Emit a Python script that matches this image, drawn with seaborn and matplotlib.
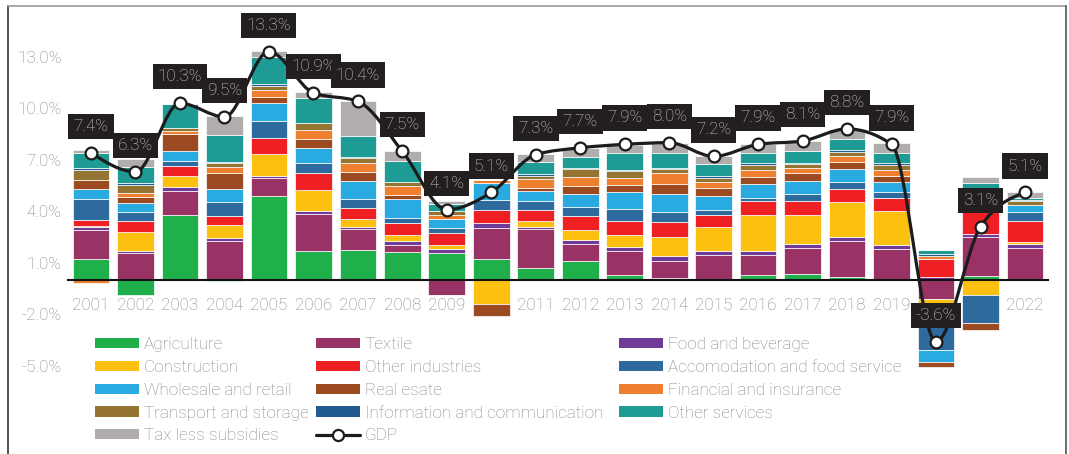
import numpy as np
import matplotlib
matplotlib.use("Agg")
import matplotlib.pyplot as plt
from matplotlib.path import Path
from matplotlib.patches import PathPatch, Patch
from matplotlib.lines import Line2D
import seaborn as sns

# ---------------------------------------------------------------- data
years = [str(y) for y in range(2001, 2023)]

agriculture   = [1.22, -0.85, 3.77, -0.08, 4.89, 1.69, 1.73, 1.65, 1.55, 1.22, 0.68,
                 1.13, 0.29, 0.14, 0.00, 0.27, 0.33, 0.17, 0.00, 0.00, 0.23, 0.06]
textile       = [1.69, 1.55, 1.44, 2.25, 1.07, 2.14, 1.24, 0.39, -0.85, 1.83, 2.29,
                 0.95, 1.42, 0.99, 1.44, 1.17, 1.55, 2.08, 1.83, -1.12, 2.25, 1.83]
food_beverage = [0.20, 0.12, 0.21, 0.19, 0.08, 0.16, 0.14, 0.23, 0.23, 0.29, 0.14,
                 0.25, 0.23, 0.27, 0.25, 0.25, 0.23, 0.27, 0.23, 0.15, 0.19, 0.23]
construction  = [0.05, 1.13, 0.62, 0.74, 1.30, 1.28, 0.45, 0.37, 0.25, -1.40, 0.35,
                 0.58, 0.68, 1.13, 1.38, 2.10, 1.69, 2.02, 1.96, -0.20, -0.87, 0.12]
other_industry = [0.33, 0.64, 0.62, 0.56, 0.95, 0.99, 0.66, 0.66, 0.70, 0.74, 0.62,
                  0.83, 0.83, 0.87, 0.72, 0.82, 0.83, 0.78, 0.74, 1.07, 2.63, 1.18]
accommodation = [1.24, 0.52, 0.29, 0.80, 0.97, 0.58, 0.50, 0.33, 0.29, 0.58, 0.52,
                 0.49, 0.70, 0.56, 0.29, 0.16, 0.37, 0.41, 0.35, -2.76, -1.65, 0.54]
wholesale     = [0.58, 0.50, 0.56, 0.74, 1.03, 0.87, 1.03, 1.07, 0.54, 0.97, 0.60,
                 0.78, 0.97, 1.07, 0.82, 0.85, 0.74, 0.72, 0.60, -0.68, 0.00, 0.43]
real_estate   = [0.49, 0.39, 0.97, 0.97, 0.39, 0.52, 0.56, 0.27, -0.04, -0.68, 0.17,
                 0.47, 0.43, 0.56, 0.47, 0.39, 0.50, 0.45, 0.37, -0.33, -0.39, 0.00]
financial     = [-0.18, 0.19, 0.17, 0.33, 0.39, 0.50, 0.49, 0.49, 0.25, 0.19, 0.54,
                 0.54, 0.41, 0.62, 0.35, 0.37, 0.31, 0.33, 0.33, 0.19, 0.00, 0.00]
transport     = [0.60, 0.52, 0.19, 0.21, 0.23, 0.39, 0.29, 0.27, 0.20, 0.00, 0.14,
                 0.43, 0.37, 0.23, 0.23, 0.31, 0.19, 0.25, 0.29, 0.00, 0.00, 0.19]
info_comm     = [0.12, 0.10, 0.04, 0.08, 0.14, 0.00, 0.10, 0.00, 0.00, 0.00, 0.10,
                 0.10, 0.10, 0.06, 0.10, 0.12, 0.10, 0.08, 0.10, 0.10, 0.00, 0.10]
other_services = [0.89, 0.93, 1.36, 1.55, 1.57, 1.48, 1.22, 1.22, 0.39, 0.00, 0.74,
                  0.62, 0.95, 0.91, 0.68, 0.58, 0.68, 0.66, 0.62, 0.23, 0.33, 0.12]
tax_subsidies = [0.17, 0.43, 0.00, 1.15, 0.35, 0.37, 2.02, 0.56, 0.20, 0.00, 0.43,
                 0.49, 0.47, 0.58, 0.50, 0.54, 0.58, 0.56, 0.58, 0.00, 0.35, 0.33]

gdp = [7.4, 6.3, 10.3, 9.5, 13.3, 10.9, 10.4, 7.5, 4.1, 5.1, 7.3,
       7.7, 7.9, 8.0, 7.2, 7.9, 8.1, 8.8, 7.9, -3.6, 3.1, 5.1]

sector_names = ["Agriculture", "Textile", "Food and beverage", "Construction",
                "Other industries", "Accomodation and food service",
                "Wholesale and retail", "Real esate", "Financial and insurance",
                "Transport and storage", "Information and communication",
                "Other services", "Tax less subsidies"]
sector_values = [agriculture, textile, food_beverage, construction, other_industry,
                 accommodation, wholesale, real_estate, financial, transport,
                 info_comm, other_services, tax_subsidies]
sector_colors = ["#20b04b", "#993366", "#6f3a98", "#fcc010", "#ee2024", "#2e6a9e",
                 "#29abe2", "#9b4a22", "#ee7f2e", "#957330", "#225b90", "#1e9b95",
                 "#b1adac"]

y_ticks = [-5, -2, 1, 4, 7, 10, 13]

# ---------------------------------------------------------------- style
sns.set_theme(style="white")
plt.rcParams["font.family"] = ["Roboto", "DejaVu Sans"]
plt.rcParams["font.weight"] = "light"

W, H = 1069, 454
fig = plt.figure(figsize=(W / 100, H / 100), dpi=100)
ax = fig.add_axes([68 / W, 0, 980 / W, 1])

TEXT_GREY = "#858585"
FS = 12.3

# ---------------------------------------------------------------- stacked bars
n = len(years)
pos_base = np.zeros(n)
neg_base = np.zeros(n)
for vals, color in zip(sector_values, sector_colors):
    v = np.asarray(vals, dtype=float)
    bottom = np.where(v >= 0, pos_base, neg_base)
    sns.barplot(x=years, y=v, bottom=bottom, color=color, saturation=1,
                width=0.825, errorbar=None, edgecolor="white", linewidth=0.5,
                ax=ax, zorder=1)
    pos_base += np.clip(v, 0, None)
    neg_base += np.clip(v, None, 0)


# ---------------------------------------------------------------- GDP line
def monotone_path(xs, ys):
    """Monotone cubic (Fritsch-Carlson style) bezier path through the points."""
    xs = np.asarray(xs, float)
    ys = np.asarray(ys, float)
    m = len(xs)
    sgn = lambda a: -1.0 if a < 0 else 1.0
    t = np.zeros(m)
    for i in range(1, m - 1):
        h0 = xs[i] - xs[i - 1]
        h1 = xs[i + 1] - xs[i]
        s0 = (ys[i] - ys[i - 1]) / h0
        s1 = (ys[i + 1] - ys[i]) / h1
        p = (s0 * h1 + s1 * h0) / (h0 + h1)
        t[i] = (sgn(s0) + sgn(s1)) * min(abs(s0), abs(s1), 0.5 * abs(p))
    t[0] = (3 * (ys[1] - ys[0]) / (xs[1] - xs[0]) - t[1]) / 2
    t[-1] = (3 * (ys[-1] - ys[-2]) / (xs[-1] - xs[-2]) - t[-2]) / 2
    verts = [(xs[0], ys[0])]
    codes = [Path.MOVETO]
    for i in range(m - 1):
        dx = (xs[i + 1] - xs[i]) / 3
        verts += [(xs[i] + dx, ys[i] + dx * t[i]),
                  (xs[i + 1] - dx, ys[i + 1] - dx * t[i + 1]),
                  (xs[i + 1], ys[i + 1])]
        codes += [Path.CURVE4] * 3
    return Path(verts, codes)


xpos = np.arange(n)
LINE_C = "#1c1c1c"
ax.add_patch(PathPatch(monotone_path(xpos, gdp), facecolor="none",
                       edgecolor=LINE_C, linewidth=2.3, zorder=4,
                       capstyle="round", joinstyle="round"))
sns.scatterplot(x=xpos, y=gdp, ax=ax, color="white", edgecolor=LINE_C,
                linewidth=1.6, s=72, zorder=5, legend=False)

for x, v in zip(xpos, gdp):
    ax.annotate(f"{v:.1f}%", xy=(x, v), xytext=(0, 19), textcoords="offset points",
                ha="center", va="center", fontsize=FS, color="#cfcfcf", zorder=6,
                bbox=dict(boxstyle="square,pad=0.3", fc="#231f20", ec="none"))

# ---------------------------------------------------------------- axes
zero_px = 280
unit_px = 17.17
ax.set_ylim(-(H - zero_px) / unit_px, zero_px / unit_px)
ax.set_xlim(-(91 - 68) / 44.48, n - 1 + (1048 - 1025) / 44.48)

for side in ["top", "right", "left"]:
    ax.spines[side].set_visible(False)
ax.spines["bottom"].set_position(("data", 0))
ax.spines["bottom"].set_color("#111111")
ax.spines["bottom"].set_linewidth(1.5)
ax.spines["bottom"].set_zorder(3)

ax.set_yticks(y_ticks)
ax.set_yticklabels([f"{t:.1f}%" for t in y_ticks])
ax.tick_params(axis="y", length=0, pad=4.5, labelsize=FS, labelcolor=TEXT_GREY)
ax.tick_params(axis="x", length=0, pad=13, labelsize=FS, labelcolor=TEXT_GREY)
ax.set_xlabel("")
ax.set_ylabel("")
ax.patch.set_alpha(0)

# ---------------------------------------------------------------- legend
patches = [Patch(facecolor=c, edgecolor="none", label=nm)
           for nm, c in zip(sector_names, sector_colors)]
gdp_handle = Line2D([], [], color=LINE_C, lw=2.3, marker="o", markersize=8,
                    markerfacecolor="white", markeredgecolor=LINE_C,
                    markeredgewidth=1.6, label="GDP")
by_name = {p.get_label(): p for p in patches}
columns = [
    (95, ["Agriculture", "Construction", "Wholesale and retail",
          "Transport and storage", "Tax less subsidies"]),
    (316, ["Textile", "Other industries", "Real esate",
           "Information and communication", "GDP"]),
    (619, ["Food and beverage", "Accomodation and food service",
           "Financial and insurance", "Other services"]),
]
for x_px, names in columns:
    hs = [gdp_handle if nm == "GDP" else by_name[nm] for nm in names]
    fig.legend(handles=hs, labels=names, loc="upper left",
               bbox_to_anchor=(x_px / W, 1 - 337 / H),
               frameon=False, fontsize=FS, handlelength=2.55,
               handleheight=0.53, handletextpad=0.3, labelspacing=0.46,
               borderpad=0, borderaxespad=0, labelcolor=TEXT_GREY)

# ---------------------------------------------------------------- frame
fig.add_artist(Line2D([8 / W, 8 / W], [0, 1 - 6 / H], transform=fig.transFigure,
                      color="#333333", lw=1.2))
fig.add_artist(Line2D([8 / W, 1066 / W], [1 - 6 / H, 1 - 6 / H],
                      transform=fig.transFigure, color="#9a9a9a", lw=1.2))
fig.add_artist(Line2D([1066 / W, 1066 / W], [0, 1 - 6 / H],
                      transform=fig.transFigure, color="#555555", lw=1.2))

fig.savefig("out.png", dpi=100, facecolor="white")
